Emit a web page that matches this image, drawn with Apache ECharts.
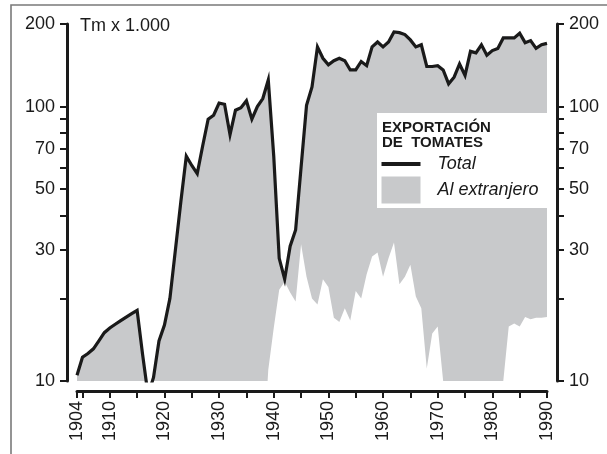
<!DOCTYPE html>
<html>
<head>
<meta charset="utf-8">
<script src="https://cdn.jsdelivr.net/npm/echarts@6/dist/echarts.min.js"></script>
<style>html,body{margin:0;padding:0;background:#fff}#c{width:607px;height:454px}</style>
</head>
<body>
<div id="c"></div>
<script>
// ---- data ----
var years = [1904,1905,1906,1907,1908,1909,1910,1911,1912,1913,1914,1915,1916,1917,1918,1919,
  1920,1921,1922,1923,1924,1925,1926,1927,1928,1929,1930,1931,1932,1933,1934,1935,1936,1937,1938,1939,
  1940,1941,1942,1943,1944,1945,1946,1947,1948,1949,1950,1951,1952,1953,1954,1955,1956,1957,1958,1959,
  1960,1961,1962,1963,1964,1965,1966,1967,1968,1969,1970,1971,1972,1973,1974,1975,1976,1977,1978,1979,
  1980,1981,1982,1983,1984,1985,1986,1987,1988,1989,1990];
// Total exports (Tm x 1.000)
var total = [10.5,12.2,12.6,13.1,14.0,15.0,15.6,16.1,16.6,17.1,17.6,18.1,12.5,8.9,10.3,14,
  16,20,30,45,66,61,57,72,90,93,103,102,79,97,99,105,90,100,107,125,
  66,28,23.5,31,35.5,60,101,118,165,150,142,147,150,147,136,136,146,141,165,172,
  165,172,187,186,183,175,165,168,140,140,141,136,121,128,143,130,159,157,168,154,
  160,163,178,178,178,185,171,174,163,168,170];
// lower (white) band: part not going abroad
var other = [null,null,null,null,null,null,null,null,null,null,null,null,null,null,null,null,
  null,null,null,null,null,null,null,null,null,null,null,null,null,null,null,null,null,null,5,11,
  15.6,21.5,23,21,19.5,31.5,24,20,19,23.5,22,17,16.4,18.4,16.6,21.3,20,24.5,28.4,29.4,
  24,28,32,22.5,24,26.5,20.3,18.4,11.1,14.9,15.8,10,10,10,10,10,10,10,10,10,
  10,10,10,15.8,16.2,15.8,17.1,16.8,17,17,17.1];
var yTicks = [10,20,30,40,50,60,70,80,90,100,200];
var yLabels = [10,30,50,70,100,200];
var xTicks = [1904,1905,1910,1915,1920,1925,1930,1935,1940,1945,1950,1955,1960,1965,1970,1975,1980,1985,1990];
var xLabels = [1904,1910,1920,1930,1940,1950,1960,1970,1980,1990];

function pairs(vals){ var out=[]; for (var i=0;i<years.length;i++) out.push([years[i], vals[i]]); return out; }

var INK = '#1a1a1a', GRAY = '#c8c9cb';
var FONT = '"Liberation Sans", Arial, Helvetica, sans-serif';

function yAxisDef(pos){
  return {
    type:'log', logBase:10, min:10, max:200, position:pos, offset:10,
    axisLine:{show:true, lineStyle:{color:INK, width:3}},
    axisTick:{show:true, customValues:yTicks, length:7, lineStyle:{color:INK, width:2}},
    axisLabel:{customValues:yLabels, fontSize:18, fontFamily:FONT, color:INK, margin:12,
               formatter:function(v){return String(v);}},
    splitLine:{show:false}, minorTick:{show:false}
  };
}

var chart = echarts.init(document.getElementById('c'), null, {renderer:'canvas'});
chart.setOption({
  animation:false,
  backgroundColor:'#fff',
  grid:{left:77, right:60, top:24, bottom:73, containLabel:false},
  xAxis:{
    type:'value', min:1904, max:1990, offset:10,
    axisLine:{show:true, lineStyle:{color:INK, width:3}},
    axisTick:{show:true, customValues:xTicks, length:7, lineStyle:{color:INK, width:2}},
    axisLabel:{customValues:xLabels, rotate:90, fontSize:18, fontFamily:FONT, color:INK, margin:10,
               formatter:function(v){return String(v);}},
    splitLine:{show:false}
  },
  yAxis:[yAxisDef('left'), yAxisDef('right')],
  legend:[
    {data:[{name:'Total', icon:'rect'}], left:381.5, top:155, padding:0, itemWidth:39, itemHeight:4, z:20,
     itemStyle:{borderWidth:0}, textStyle:{fontSize:18, fontStyle:'italic', fontFamily:FONT, color:INK, padding:[0,0,0,12]}, selectedMode:false},
    {data:[{name:'Al extranjero', icon:'rect'}], left:381.5, top:176.5, padding:0, itemWidth:39, itemHeight:27, z:20,
     itemStyle:{borderWidth:0}, textStyle:{fontSize:18, fontStyle:'italic', fontFamily:FONT, color:INK, padding:[0,0,0,12]}, selectedMode:false}
  ],
  graphic:[
    {type:'polyline', z:30, shape:{points:[[11,460],[11,5],[612,5]]}, style:{stroke:'#7a7a7a', lineWidth:1.6, fill:null}},
    {type:'rect', z:10, shape:{x:377, y:113, width:170, height:95}, style:{fill:'#fff'}},
    {type:'text', z:21, left:382, top:120, style:{text:'EXPORTACIÓN', font:'bold 15px '+FONT, fill:INK}},
    {type:'text', z:21, left:382, top:135, style:{text:'DE  TOMATES', font:'bold 15px '+FONT, fill:INK}},
    {type:'text', z:21, left:80, top:17, style:{text:'Tm x 1.000', font:'18px '+FONT, fill:INK}}
  ],
  series:[
    {name:'Al extranjero', type:'line', data:pairs(total), symbol:'none', z:1, color:GRAY,
     lineStyle:{width:0}, areaStyle:{color:GRAY, opacity:1, origin:'start'}, silent:true},
    {name:'resto', type:'line', data:pairs(other), symbol:'none', z:2, color:'#fff',
     lineStyle:{width:0}, areaStyle:{color:'#fff', opacity:1, origin:'start'}, silent:true},
    {name:'Total', type:'line', data:pairs(total), symbol:'none', z:3, color:INK,
     lineStyle:{width:3.2, color:INK, join:'miter'}, silent:true}
  ]
});
</script>
</body>
</html>
